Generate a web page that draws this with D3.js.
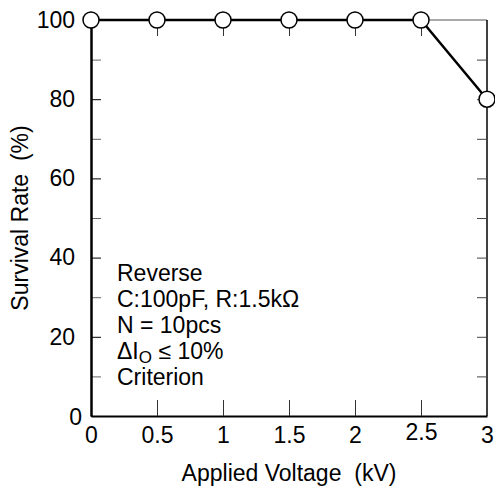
<!DOCTYPE html>
<html>
<head>
<meta charset="utf-8">
<script src="https://cdn.jsdelivr.net/npm/d3@7"></script>
<style>
  html, body { margin: 0; padding: 0; background: #fff; }
  svg { display: block; font-family: "Liberation Sans", Arial, sans-serif; }
</style>
</head>
<body>
<svg id="chart" width="495" height="489"></svg>
<script>
// Data
const voltage = [0, 0.5, 1, 1.5, 2, 2.5, 3];           // kV
const survival = [100, 100, 100, 100, 100, 100, 80];   // %
const xTicks = [0, 0.5, 1, 1.5, 2, 2.5, 3];
const yMajorTicks = [0, 20, 40, 60, 80, 100];
const yMinorTicks = [10, 30, 50, 70, 90];
const noteLines = ["Reverse", "C:100pF, R:1.5kΩ", "N = 10pcs", "ΔIO ≤ 10%", "Criterion"];

const svg = d3.select("#chart");
const m = { left: 91, top: 20, right: 487, bottom: 416 };
const x = d3.scaleLinear().domain([0, 3]).range([m.left, m.right]);
const y = d3.scaleLinear().domain([0, 100]).range([m.bottom, m.top]);
const fs = 23;
const ff = "'Liberation Sans', Arial, sans-serif";

// Frame: top and right thin
svg.append("line").attr("x1", m.left).attr("x2", m.right).attr("y1", m.top).attr("y2", m.top)
  .attr("stroke", "#555").attr("stroke-width", 1);
svg.append("line").attr("x1", m.right).attr("x2", m.right).attr("y1", m.top).attr("y2", m.bottom)
  .attr("stroke", "#000").attr("stroke-width", 1.5);

// Top ticks (inward)
const topAxis = svg.append("g").attr("transform", `translate(0,${m.top})`)
  .call(d3.axisTop(x).tickValues(xTicks.slice(1, -1)).tickSize(-16).tickSizeOuter(0).tickFormat(""));
topAxis.select(".domain").remove();
topAxis.selectAll(".tick line").attr("stroke", "#333");

// Right ticks (inward)
const rightAxis = svg.append("g").attr("transform", `translate(${m.right},0)`)
  .call(d3.axisRight(y).tickValues(yMajorTicks.slice(1, -1).concat(yMinorTicks)).tickSize(-10).tickSizeOuter(0).tickFormat(""));
rightAxis.select(".domain").remove();
rightAxis.selectAll(".tick line").attr("stroke", "#444");

// Minor left ticks
const leftMinor = svg.append("g").attr("transform", `translate(${m.left},0)`)
  .call(d3.axisLeft(y).tickValues(yMinorTicks).tickSize(-10).tickSizeOuter(0).tickFormat(""));
leftMinor.select(".domain").remove();
leftMinor.selectAll(".tick line").attr("stroke", "#666");

// Left axis
const leftAxis = svg.append("g").attr("transform", `translate(${m.left},0)`)
  .call(d3.axisLeft(y).tickValues(yMajorTicks).tickSize(-10).tickSizeOuter(0).tickPadding(16));
leftAxis.select(".domain").attr("stroke", "#000").attr("stroke-width", 2.5);
leftAxis.selectAll(".tick line").attr("stroke", "#000");
leftAxis.selectAll(".tick text").attr("font-size", fs).attr("fill", "#000").attr("font-family", ff);
leftAxis.selectAll(".tick").filter(d => d === 0).select("text").attr("dx", 7).attr("dy", "0.35em");

// Bottom axis
const bottomAxis = svg.append("g").attr("transform", `translate(0,${m.bottom})`)
  .call(d3.axisBottom(x).tickValues(xTicks).tickSize(-16).tickSizeOuter(0).tickPadding(11)
    .tickFormat(d => d3.format("")(d)));
bottomAxis.select(".domain").attr("stroke", "#000").attr("stroke-width", 2);
bottomAxis.selectAll(".tick line").attr("stroke", "#333");
bottomAxis.selectAll(".tick text").attr("font-size", fs).attr("fill", "#000").attr("font-family", ff);
bottomAxis.selectAll(".tick").filter(d => d === 0 || d === 3).select("line").remove();
bottomAxis.selectAll(".tick").filter(d => d === 2.5).select("text").attr("dy", "0.58em");

// Data line
const line = d3.line().x((d, i) => x(voltage[i])).y(d => y(d));
svg.append("path").datum(survival).attr("d", line)
  .attr("fill", "none").attr("stroke", "#000").attr("stroke-width", 2.5);

// Markers
svg.append("g").selectAll("circle").data(survival).join("circle")
  .attr("cx", (d, i) => x(voltage[i])).attr("cy", d => y(d)).attr("r", 8)
  .attr("fill", "#fff").attr("stroke", "#000").attr("stroke-width", 1.5);

// Axis titles
svg.append("text").attr("x", 289).attr("y", 481).attr("text-anchor", "middle")
  .attr("font-size", fs).attr("fill", "#000").text("Applied Voltage\u00a0\u00a0(kV)");
svg.append("text").attr("transform", "translate(28,218) rotate(-90)").attr("text-anchor", "middle")
  .attr("font-size", fs).attr("fill", "#000").text("Survival Rate\u00a0\u00a0(%)");

// Notes
const note = svg.append("g").attr("font-size", fs).attr("fill", "#000");
noteLines.forEach((t, i) => {
  const tx = note.append("text").attr("x", 117).attr("y", 281 + i * 26);
  if (t.startsWith("ΔIO")) {
    tx.append("tspan").text("ΔI");
    tx.append("tspan").attr("font-size", 17).attr("dy", 4).text("O");
    tx.append("tspan").attr("dy", -4).text(" ≤ 10%");
  } else {
    tx.text(t);
  }
});
</script>
</body>
</html>
